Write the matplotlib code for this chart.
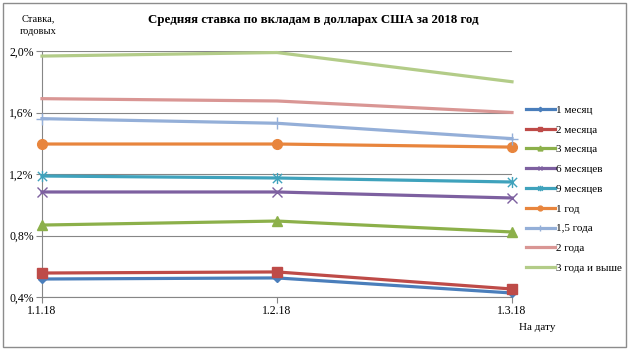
import numpy as np
import matplotlib.pyplot as plt
from matplotlib.patches import Rectangle
from matplotlib.path import Path

plt.rcParams['font.family'] = ['Liberation Serif', 'DejaVu Serif']

# Data
dates = ['1.1.18', '1.2.18', '1.3.18']
series_names = ['1 месяц', '2 месяца', '3 месяца', '6 месяцев', '9 месяцев',
                '1 год', '1,5 года', '2 года', '3 года и выше']
m1 = [0.517, 0.524, 0.426]
m2 = [0.556, 0.563, 0.452]
m3 = [0.868, 0.894, 0.823]
m6 = [1.083, 1.083, 1.044]
m9 = [1.187, 1.174, 1.148]
y1 = [1.395, 1.395, 1.375]
y15 = [1.560, 1.530, 1.430]
y2 = [1.690, 1.675, 1.600]
y3 = [1.967, 1.990, 1.800]
yticks = [0.4, 0.8, 1.2, 1.6, 2.0]
ytick_labels = ['0,4%', '0,8%', '1,2%', '1,6%', '2,0%']

# Excel-like star marker: an x with a vertical bar through it
star = Path([(-1, -1), (1, 1), (-1, 1), (1, -1), (0, -1.2), (0, 1.2)],
            [Path.MOVETO, Path.LINETO, Path.MOVETO, Path.LINETO,
             Path.MOVETO, Path.LINETO])

values = [m1, m2, m3, m6, m9, y1, y15, y2, y3]
colors = ['#4A7EBB', '#BE4B48', '#8CB04A', '#7D60A0', '#3FA2BC',
          '#E8853D', '#94AFD8', '#D99694', '#B3CC88']
markers = ['D', 's', '^', 'x', star, 'o', '+', None, None]
msizes = [4.5, 7, 7, 7, 8, 7, 9, 0, 0]

fig = plt.figure(figsize=(6.3, 3.51), dpi=100)
ax = fig.add_axes([42 / 630, 1 - 297 / 351, 470 / 630, 246 / 351])

x = np.arange(len(dates))
for vals, name, c, mk, ms in zip(values, series_names, colors, markers, msizes):
    ax.plot(x, vals, color=c, lw=2.3, marker=mk, markersize=ms,
            markeredgecolor=c, markerfacecolor=c, markeredgewidth=1.0,
            label=name, clip_on=False, zorder=3)

ax.set_xlim(0, 2)
ax.set_ylim(0.4, 2.0)
ax.set_xticks(x)
ax.set_xticklabels(dates, fontsize=8.5)
ax.set_yticks(yticks)
ax.set_yticklabels(ytick_labels, fontsize=8.5)
ax.grid(axis='y', color='#868686', lw=0.8)
ax.set_axisbelow(True)
for s in ['top', 'right']:
    ax.spines[s].set_visible(False)
for s in ['left', 'bottom']:
    ax.spines[s].set_color('#868686')
    ax.spines[s].set_linewidth(0.8)
ax.tick_params(axis='both', length=4, color='#868686', pad=2)

fig.text(313 / 630, 1 - 20 / 351,
         'Средняя ставка по вкладам в долларах США за 2018 год',
         fontsize=9.3, fontweight='bold', ha='center', va='center')
fig.text(38 / 630, 1 - 25 / 351, 'Ставка,\nгодовых', fontsize=7.5,
         ha='center', va='center', linespacing=1.6)
fig.text(537 / 630, 1 - 327 / 351, 'На дату', fontsize=8, ha='center', va='center')

leg = ax.legend(loc='upper left', bbox_to_anchor=(516 / 630, 1 - 95 / 351),
                bbox_transform=fig.transFigure, frameon=False, fontsize=8,
                handlelength=2.6, handletextpad=0.1, labelspacing=0.9,
                markerscale=0.5)

fig.patches.append(Rectangle((3 / 630, 4 / 351), 623 / 630, 344 / 351,
                             transform=fig.transFigure, fill=False,
                             edgecolor='#8C8C8C', lw=1.0))

fig.savefig('out.png', dpi=100)
